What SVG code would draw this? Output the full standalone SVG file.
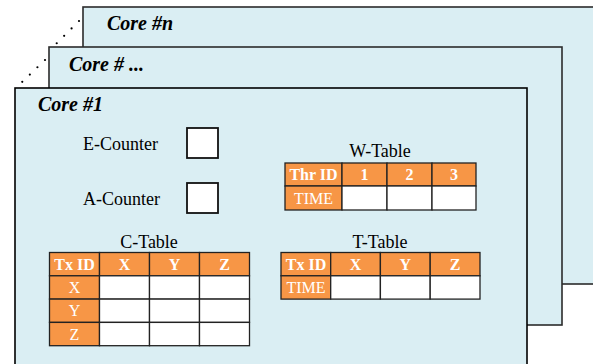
<svg xmlns="http://www.w3.org/2000/svg" width="593" height="364" viewBox="0 0 593 364">
  <style>
    text { font-family: 'Liberation Serif', 'Times New Roman', Tinos, 'DejaVu Serif', serif; }
    .core { fill: #daeef3; stroke: #2b2b2b; stroke-width: 1.6; }
    .core-title { font-size: 20px; font-weight: bold; font-style: italic; fill: #000; }
    .label { font-size: 18px; fill: #000; }
    .head { fill: #f79646; stroke: #222; stroke-width: 1.3; }
    .cell { fill: #fff; stroke: #222; stroke-width: 1.3; }
    .htxt { font-size: 16px; font-weight: bold; fill: #fff; text-anchor: middle; }
    .rtxt { font-size: 16px; fill: #fff; text-anchor: middle; }
    .box { fill: #fff; stroke: #111; stroke-width: 1.8; }
    .dots { stroke: #000; stroke-width: 2.2; stroke-linecap: round; stroke-dasharray: 0 10.5; fill: none; }
  </style>

  <!-- stacked cores -->
  <g id="core-n">
    <rect class="core" x="83" y="7" width="530" height="277"/>
    <text class="core-title" x="107" y="30">Core #n</text>
  </g>
  <g id="core-mid">
    <rect class="core" x="49" y="47" width="513" height="278"/>
    <text class="core-title" x="69" y="71">Core # ...</text>
  </g>
  <g id="connectors">
    <line class="dots" x1="79" y1="21" x2="55" y2="45"/>
    <line class="dots" x1="45" y1="60" x2="21" y2="83"/>
  </g>
  <g id="core-1">
    <rect class="core" x="15" y="88" width="512" height="290" style="stroke:#000"/>
    <text class="core-title" x="38" y="111">Core #1</text>
  </g>

  <!-- counters -->
  <g id="e-counter">
    <text class="label" x="83" y="149.5">E-Counter</text>
    <rect class="box" x="187" y="128" width="31" height="30"/>
  </g>
  <g id="a-counter">
    <text class="label" x="83" y="205">A-Counter</text>
    <rect class="box" x="187" y="183" width="31" height="30"/>
  </g>

  <!-- W-Table -->
  <g id="w-table">
    <text class="label" x="380" y="157" text-anchor="middle">W-Table</text>
    <rect class="head" x="285" y="163" width="57" height="23"/>
    <rect class="head" x="342" y="163" width="45" height="23"/>
    <rect class="head" x="387" y="163" width="45" height="23"/>
    <rect class="head" x="432" y="163" width="44" height="23"/>
    <rect class="head" x="285" y="186" width="57" height="24"/>
    <rect class="cell" x="342" y="186" width="45" height="24"/>
    <rect class="cell" x="387" y="186" width="45" height="24"/>
    <rect class="cell" x="432" y="186" width="44" height="24"/>
    <text class="htxt" x="313.5" y="180">Thr ID</text>
    <text class="htxt" x="364.5" y="180">1</text>
    <text class="htxt" x="409.5" y="180">2</text>
    <text class="htxt" x="454" y="180">3</text>
    <text class="rtxt" x="313.5" y="204">TIME</text>
  </g>

  <!-- C-Table -->
  <g id="c-table">
    <text class="label" x="149" y="248" text-anchor="middle">C-Table</text>
    <rect class="head" x="49.5" y="252.5" width="50" height="23.3"/>
    <rect class="head" x="99.5" y="252.5" width="50" height="23.3"/>
    <rect class="head" x="149.5" y="252.5" width="50" height="23.3"/>
    <rect class="head" x="199.5" y="252.5" width="50" height="23.3"/>
    <rect class="head" x="49.5" y="275.8" width="50" height="23.3"/>
    <rect class="head" x="49.5" y="299.1" width="50" height="23.3"/>
    <rect class="head" x="49.5" y="322.4" width="50" height="23.3"/>
    <rect class="cell" x="99.5" y="275.8" width="50" height="23.3"/>
    <rect class="cell" x="149.5" y="275.8" width="50" height="23.3"/>
    <rect class="cell" x="199.5" y="275.8" width="50" height="23.3"/>
    <rect class="cell" x="99.5" y="299.1" width="50" height="23.3"/>
    <rect class="cell" x="149.5" y="299.1" width="50" height="23.3"/>
    <rect class="cell" x="199.5" y="299.1" width="50" height="23.3"/>
    <rect class="cell" x="99.5" y="322.4" width="50" height="23.3"/>
    <rect class="cell" x="149.5" y="322.4" width="50" height="23.3"/>
    <rect class="cell" x="199.5" y="322.4" width="50" height="23.3"/>
    <text class="htxt" x="74.5" y="269.5">Tx ID</text>
    <text class="htxt" x="124.5" y="269.5">X</text>
    <text class="htxt" x="174.5" y="269.5">Y</text>
    <text class="htxt" x="224.5" y="269.5">Z</text>
    <text class="rtxt" x="74.5" y="293">X</text>
    <text class="rtxt" x="74.5" y="316">Y</text>
    <text class="rtxt" x="74.5" y="339.5">Z</text>
  </g>

  <!-- T-Table -->
  <g id="t-table">
    <text class="label" x="380" y="248" text-anchor="middle">T-Table</text>
    <rect class="head" x="281" y="252.5" width="49.7" height="23.3"/>
    <rect class="head" x="330.7" y="252.5" width="49.7" height="23.3"/>
    <rect class="head" x="380.4" y="252.5" width="49.8" height="23.3"/>
    <rect class="head" x="430.2" y="252.5" width="49.8" height="23.3"/>
    <rect class="head" x="281" y="275.8" width="49.7" height="23.3"/>
    <rect class="cell" x="330.7" y="275.8" width="49.7" height="23.3"/>
    <rect class="cell" x="380.4" y="275.8" width="49.8" height="23.3"/>
    <rect class="cell" x="430.2" y="275.8" width="49.8" height="23.3"/>
    <text class="htxt" x="306" y="269.5">Tx ID</text>
    <text class="htxt" x="355.5" y="269.5">X</text>
    <text class="htxt" x="405.3" y="269.5">Y</text>
    <text class="htxt" x="455" y="269.5">Z</text>
    <text class="rtxt" x="306" y="293">TIME</text>
  </g>
</svg>
